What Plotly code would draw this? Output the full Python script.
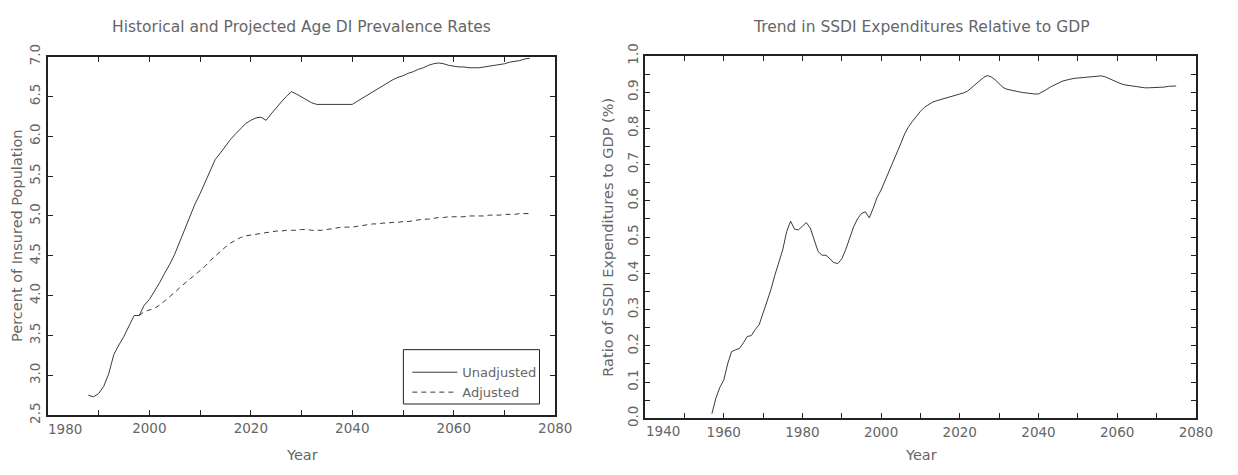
import plotly.graph_objects as go

# Age DI prevalence (percent of insured population)
prev_years = list(range(1988, 2076))
unadjusted = [
    2.75, 2.73, 2.77, 2.86, 3.02, 3.26, 3.38, 3.49, 3.62, 3.75,
    3.75, 3.88, 3.95, 4.05, 4.16, 4.28, 4.39, 4.52, 4.68, 4.82,
    5.00, 5.15, 5.28, 5.42, 5.56, 5.71, 5.79, 5.88, 5.96, 6.03,
    6.10, 6.16, 6.20, 6.23, 6.24, 6.20, 6.28, 6.36, 6.43, 6.50,
    6.56, 6.53, 6.49, 6.45, 6.42, 6.40, 6.40, 6.40, 6.40, 6.40,
    6.40, 6.40, 6.40, 6.44, 6.48, 6.52, 6.56, 6.60, 6.64, 6.68,
    6.71, 6.74, 6.76, 6.79, 6.81, 6.84, 6.86, 6.89, 6.91, 6.92,
    6.91, 6.89, 6.88, 6.87, 6.87, 6.86, 6.86, 6.86, 6.87, 6.88,
    6.89, 6.90, 6.91, 6.93, 6.94, 6.95, 6.97, 6.98,
]
adj_years = list(range(1998, 2076))
adjusted = [
    3.75, 3.80, 3.82, 3.84, 3.88, 3.93, 3.98, 4.04, 4.10, 4.16,
    4.21, 4.26, 4.31, 4.37, 4.44, 4.50, 4.56, 4.61, 4.66, 4.70,
    4.73, 4.75, 4.76, 4.77, 4.78, 4.79, 4.80, 4.81, 4.81, 4.82,
    4.82, 4.82, 4.83, 4.83, 4.82, 4.82, 4.82, 4.83, 4.84, 4.85,
    4.86, 4.86, 4.86, 4.87, 4.88, 4.89, 4.90, 4.90, 4.91, 4.91,
    4.92, 4.92, 4.93, 4.93, 4.94, 4.95, 4.96, 4.96, 4.97, 4.98,
    4.98, 4.99, 4.99, 4.99, 4.99, 5.00, 5.00, 5.00, 5.00, 5.01,
    5.01, 5.01, 5.02, 5.02, 5.02, 5.03, 5.03, 5.03,
]

# SSDI expenditures as a percent of GDP
gdp_years = list(range(1957, 2076))
ssdi_ratio = [
    0.013, 0.055, 0.085, 0.105, 0.150, 0.184, 0.189, 0.193, 0.208, 0.226,
    0.228, 0.245, 0.258, 0.290, 0.325, 0.355, 0.395, 0.430, 0.465, 0.515,
    0.544, 0.522, 0.520, 0.530, 0.540, 0.525, 0.490, 0.460, 0.450, 0.450,
    0.440, 0.430, 0.427, 0.440, 0.465, 0.495, 0.528, 0.550, 0.565, 0.570,
    0.553, 0.580, 0.610, 0.630, 0.655, 0.678, 0.705, 0.732, 0.758, 0.785,
    0.805, 0.820, 0.835, 0.847, 0.858, 0.866, 0.872, 0.876, 0.879, 0.882,
    0.885, 0.888, 0.891, 0.894, 0.898, 0.903, 0.912, 0.922, 0.932, 0.940,
    0.946, 0.942, 0.934, 0.922, 0.913, 0.908, 0.905, 0.903, 0.901, 0.899,
    0.897, 0.896, 0.895, 0.895, 0.900, 0.907, 0.914, 0.920, 0.926, 0.930,
    0.933, 0.936, 0.938, 0.939, 0.940, 0.942, 0.944, 0.945, 0.946, 0.945,
    0.942, 0.937, 0.932, 0.927, 0.923, 0.920, 0.918, 0.916, 0.914, 0.913,
    0.912, 0.912, 0.912, 0.912, 0.913, 0.914, 0.916, 0.917, 0.917,
]

W, H = 1238, 475
FONT = "DejaVu Sans"
TXT = "#666666"
LINE = "#3a3a3a"
FRAME = "#222222"
TICK_SIZE = 13.5


def px_x(p):
    return p / W


def px_y(p):
    return 1 - p / H


fig = go.Figure()

fig.add_trace(go.Scatter(
    x=prev_years, y=unadjusted, mode="lines", name="Unadjusted",
    line=dict(color=LINE, width=1), xaxis="x", yaxis="y",
))
fig.add_trace(go.Scatter(
    x=adj_years, y=adjusted, mode="lines", name="Adjusted",
    line=dict(color=LINE, width=1, dash="5px,4px"), xaxis="x", yaxis="y",
))
fig.add_trace(go.Scatter(
    x=gdp_years, y=ssdi_ratio, mode="lines", showlegend=False,
    line=dict(color=LINE, width=1), xaxis="x2", yaxis="y2",
))

axis_common = dict(
    showline=True, linecolor=FRAME, linewidth=2, mirror="ticks",
    ticks="inside", ticklen=5, tickcolor=FRAME, tickwidth=1,
    showgrid=False, zeroline=False,
    tickfont=dict(family=FONT, size=TICK_SIZE, color=TXT),
)

fig.update_layout(
    width=W, height=H,
    margin=dict(l=0, r=0, t=0, b=0),
    paper_bgcolor="white", plot_bgcolor="white",
    font=dict(family=FONT, color=TXT),
    xaxis=dict(
        domain=[px_x(48.5), px_x(563)], range=[1980, 2080],
        tickvals=[2000, 2020, 2040, 2060, 2080],
        minor=dict(dtick=10, tick0=1980, ticks="inside", ticklen=5, tickcolor=FRAME),
        anchor="y", **axis_common,
    ),
    yaxis=dict(
        domain=[px_y(421.7), px_y(45.7)], range=[2.5, 7.0],
        dtick=0.5, tickformat=".1f", tickangle=-90,
        anchor="x", **axis_common,
    ),
    xaxis2=dict(
        domain=[px_x(654), px_x(1212.5)], range=[1940, 2080],
        tickvals=[1960, 1980, 2000, 2020, 2040, 2060, 2080],
        minor=dict(dtick=10, tick0=1940, ticks="inside", ticklen=5, tickcolor=FRAME),
        anchor="y2", **axis_common,
    ),
    yaxis2=dict(
        domain=[px_y(425), px_y(45)], range=[0, 1.0],
        dtick=0.1, tickformat=".1f", tickangle=-90,
        minor=dict(dtick=0.05, ticks="inside", ticklen=5, tickcolor=FRAME),
        anchor="x2", **axis_common,
    ),
    legend=dict(
        x=px_x(413), y=px_y(361), xanchor="left", yanchor="top",
        borderwidth=0, bgcolor="rgba(0,0,0,0)",
        font=dict(family=FONT, size=13, color=TXT),
        itemwidth=45,
    ),
    showlegend=True,
)

# frame around the legend entries
fig.add_shape(
    type="rect", xref="paper", yref="paper",
    x0=px_x(409), x1=px_x(547), y0=px_y(410), y1=px_y(353),
    line=dict(color=FRAME, width=1), fillcolor="white", layer="below",
)

ann = [
    # panel titles
    dict(text="Historical and Projected Age DI Prevalence Rates", x=px_x(306), y=px_y(15), size=15.5),
    dict(text="Trend in SSDI Expenditures Relative to GDP", x=px_x(934), y=px_y(15), size=15.5),
    # axis titles
    dict(text="Year", x=px_x(306), y=px_y(463), size=14.5),
    dict(text="Year", x=px_x(934), y=px_y(463), size=14.5),
    dict(text="Percent of Insured Population", x=px_x(17), y=px_y(233), size=14.5, textangle=-90),
    dict(text="Ratio of SSDI Expenditures to GDP (%)", x=px_x(617), y=px_y(235), size=14.5, textangle=-90),
    # first x tick labels, set inside the frame edge
    dict(text="1980", x=px_x(66), y=px_y(436), size=TICK_SIZE),
    dict(text="1940", x=px_x(672), y=px_y(438), size=TICK_SIZE),
]
for a in ann:
    size = a.pop("size")
    a.update(xref="paper", yref="paper", showarrow=False,
             xanchor="center", yanchor="middle",
             font=dict(family=FONT, size=size, color=TXT))
    fig.add_annotation(**a)

fig.write_html("out.html")
